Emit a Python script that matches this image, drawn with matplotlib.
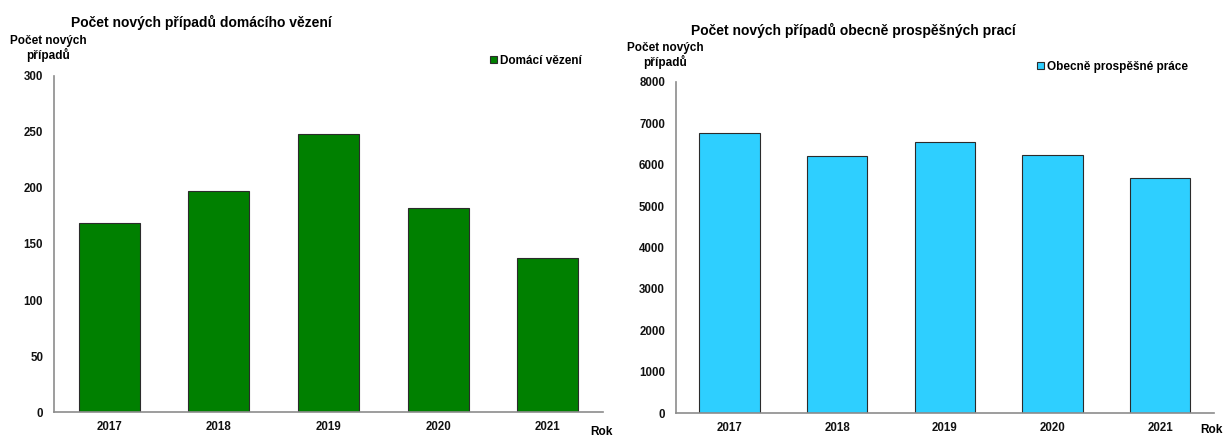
import numpy as np
import matplotlib.pyplot as plt

plt.rcParams['font.family'] = ['Liberation Sans', 'DejaVu Sans']
plt.rcParams['font.weight'] = 'bold'

# Data
roky = ['2017', '2018', '2019', '2020', '2021']
domaci_vezeni = [169, 197, 248, 182, 137]
obecne_prace = [6760, 6210, 6540, 6230, 5685]

W, H = 1224, 437
fig = plt.figure(figsize=(W / 100, H / 100), dpi=100)

def fx(px):
    return px / W

def fy(py):
    return 1 - py / H

# pozice os v pixelech (vlevo, nahore, vpravo, dole)
ax1 = fig.add_axes([fx(54.3), fy(412.3), fx(602.7 - 54.3), (412.3 - 75.5) / H])
ax2 = fig.add_axes([fx(675.7), fy(413.3), fx(1214 - 675.7), (413.3 - 81.7) / H])

x = np.arange(len(roky))

def style_axis(ax, ymax, step, ypad):
    ax.set_xlim(-0.5, len(roky) - 0.5)
    ax.set_ylim(0, ymax)
    ax.set_yticks(np.arange(0, ymax + 1, step))
    ax.set_xticks(x)
    ax.set_xticklabels(roky)
    for s in ['top', 'right']:
        ax.spines[s].set_visible(False)
    for s in ['left', 'bottom']:
        ax.spines[s].set_color('#8c8c8c')
        ax.spines[s].set_linewidth(1.2)
    ax.tick_params(axis='x', length=0, pad=6.5, labelsize=8.3)
    ax.tick_params(axis='y', length=0, pad=ypad, labelsize=8.3)
    for lbl in ax.get_xticklabels() + ax.get_yticklabels():
        lbl.set_fontweight('bold')
        lbl.set_color('#111111')

ax1.bar(x, domaci_vezeni, width=0.557, color='#008000', edgecolor='#2b2b2b',
        linewidth=0.8, label='Domácí vězení')
style_axis(ax1, 300, 50, 8)

ax2.bar(x, obecne_prace, width=0.558, color='#2ECFFF', edgecolor='#2b2b2b',
        linewidth=0.8, label='Obecně prospěšné práce')
style_axis(ax2, 8000, 1000, 7.7)

# nadpisy
fig.text(fx(201), fy(22.7), 'Počet nových případů domácího vězení',
         ha='center', va='center', fontsize=10, fontweight='bold')
fig.text(fx(853), fy(30.7), 'Počet nových případů obecně prospěšných prací',
         ha='center', va='center', fontsize=10, fontweight='bold')

# popisky osy y
fig.text(fx(48), fy(48.5), 'Počet nových\npřípadů', ha='center', va='center',
         fontsize=8.5, fontweight='bold', linespacing=1.1)
fig.text(fx(665), fy(55.5), 'Počet nových\npřípadů', ha='center', va='center',
         fontsize=8.5, fontweight='bold', linespacing=1.1)

# popisky osy x
fig.text(fx(590), fy(432), 'Rok', ha='left', va='center', fontsize=8.5, fontweight='bold')
fig.text(fx(1200), fy(430), 'Rok', ha='left', va='center', fontsize=8.5, fontweight='bold')

# legendy
leg_kw = dict(loc='center left', frameon=False, borderpad=0, borderaxespad=0,
              handlelength=0.6, handleheight=0.6, handletextpad=0.25,
              prop={'size': 8.5, 'weight': 'bold'}, bbox_transform=fig.transFigure)
ax1.legend(bbox_to_anchor=(fx(490), fy(60.7)), **leg_kw)
ax2.legend(bbox_to_anchor=(fx(1037), fy(66.7)), **leg_kw)

fig.savefig('out.png', dpi=100)
